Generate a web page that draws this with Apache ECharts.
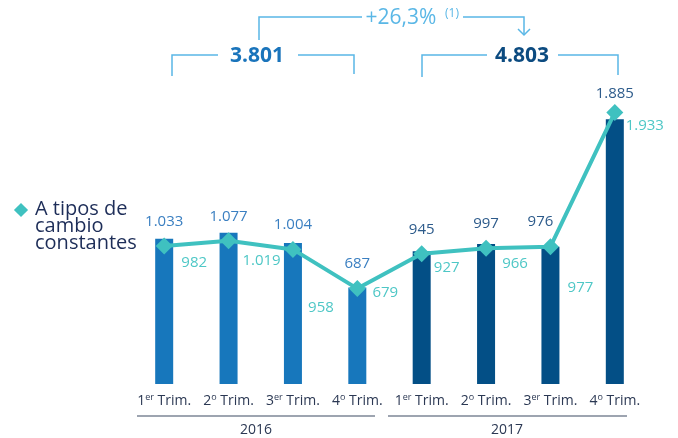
<!DOCTYPE html>
<html>
<head>
<meta charset="utf-8">
<script src="https://cdn.jsdelivr.net/npm/echarts@6/dist/echarts.min.js"></script>
<style>
  html, body { margin: 0; padding: 0; background: #fff; }
  #chart { width: 678px; height: 438px; }
</style>
</head>
<body>
<div id="chart"></div>
<script>
// quarter labels: first char is the number, the rest is the superscript
const quarters = ['1er', '2o', '3er', '4o', '1er', '2o', '3er', '4o']
const years = ['2016', '2017']
const yearTotals = ['3.801', '4.803']
const growth = '+26,3%'
const barValues = [1033, 1077, 1004, 687, 945, 997, 976, 1885]
const constantValues = [982, 1019, 958, 679, 927, 966, 977, 1933]

// label placement for the teal values (dx, dy from the diamond)
const lineLabelOffsets = [[30, 17], [33, 20], [28, 58], [28, 4], [25, 14], [29, 15], [30, 41], [30, 13]]
const barColors = ['#1777bc', '#1777bc', '#1777bc', '#1777bc', '#034f86', '#034f86', '#034f86', '#034f86']
const barLabelColors = ['#3a7fc1', '#3a7fc1', '#3a7fc1', '#3a7fc1', '#2d5b8b', '#2d5b8b', '#2d5b8b', '#2d5b8b']

const fmt = v => {
    const s = String(v)
    return s.length > 3 ? s.slice(0, s.length - 3) + '.' + s.slice(-3) : s
}

const FONT = '"Open Sans", sans-serif'
const accent = '#5ab7e6'
const teal = '#3fc1c0'

const chart = echarts.init(document.getElementById('chart'))

const buildBars = offsets => barValues.map((v, i) => ({
    value: v,
    itemStyle: { color: barColors[i] },
    label: { color: barLabelColors[i], offset: [i === 6 ? -10 : 0, offsets ? offsets[i] : 0] }
}))

const option = {
    animation: false,
    grid: { left: 132, right: 31, top: 103, bottom: 54 },
    xAxis: {
        type: 'category',
        data: quarters,
        axisLine: { show: false },
        axisTick: { show: false },
        axisLabel: {
            margin: 9,
            interval: 0,
            formatter: q => `{n|${q[0]}}{s|${q.slice(1)}}{n| Trim.}`,
            rich: {
                n: { fontFamily: FONT, fontSize: 14, color: '#2b3853' },
                s: { fontFamily: FONT, fontSize: 9, color: '#2b3853', padding: [0, 0, 7, 0] }
            }
        }
    },
    yAxis: { type: 'value', min: 0, max: 2000, show: false, splitLine: { show: false } },
    series: [
        {
            type: 'bar',
            barWidth: 18,
            data: buildBars(null),
            label: {
                show: true,
                position: 'top',
                distance: 8,
                fontFamily: FONT,
                fontSize: 15,
                formatter: p => fmt(p.value)
            }
        },
        {
            type: 'line',
            data: constantValues.map((v, i) => ({
                value: v,
                label: { offset: lineLabelOffsets[i] }
            })),
            z: 5,
            symbol: 'diamond',
            symbolSize: [17, 17],
            lineStyle: { color: teal, width: 4 },
            itemStyle: { color: teal },
            label: {
                show: true,
                position: 'inside',
                fontFamily: FONT,
                fontSize: 15,
                color: '#4ec7c6',
                formatter: p => fmt(p.value)
            }
        }
    ],
    graphic: [
        // legend
        { type: 'rect', shape: { x: -5, y: -5, width: 10, height: 10 }, x: 21, y: 210, rotation: Math.PI / 4, style: { fill: teal } },
        { type: 'text', x: 35, y: 201, style: { text: 'A tipos de\ncambio\nconstantes', font: '20px ' + FONT, fill: '#1d2d58', lineHeight: 17 } },
        // year brackets
        { type: 'polyline', shape: { points: [[172, 76], [172, 55], [218, 55]] }, style: { stroke: accent, lineWidth: 1.5, fill: null } },
        { type: 'polyline', shape: { points: [[298, 55], [354, 55], [354, 74]] }, style: { stroke: accent, lineWidth: 1.5, fill: null } },
        { type: 'text', x: 257, y: 56, style: { text: yearTotals[0], font: 'bold 21px ' + FONT, fill: '#1a74bb', align: 'center', verticalAlign: 'middle' } },
        { type: 'polyline', shape: { points: [[422, 77], [422, 55], [487, 55]] }, style: { stroke: accent, lineWidth: 1.5, fill: null } },
        { type: 'polyline', shape: { points: [[558, 55], [618, 55], [618, 75]] }, style: { stroke: accent, lineWidth: 1.5, fill: null } },
        { type: 'text', x: 522, y: 56, style: { text: yearTotals[1], font: 'bold 21px ' + FONT, fill: '#0c4b80', align: 'center', verticalAlign: 'middle' } },
        // growth arrow
        { type: 'polyline', shape: { points: [[259, 40], [259, 17], [362, 17]] }, style: { stroke: accent, lineWidth: 1.5, fill: null } },
        { type: 'text', x: 401, y: 18, style: { text: growth, font: '21px ' + FONT, fill: accent, align: 'center', verticalAlign: 'middle' } },
        { type: 'text', x: 452, y: 14, style: { text: '(1)', font: '12px ' + FONT, fill: accent, align: 'center', verticalAlign: 'middle' } },
        { type: 'polyline', shape: { points: [[463, 17], [524, 17], [524, 35]] }, style: { stroke: accent, lineWidth: 1.5, fill: null } },
        { type: 'polyline', shape: { points: [[518, 29], [524, 35], [530, 29]] }, style: { stroke: accent, lineWidth: 1.5, fill: null } },
        // year separators
        { type: 'line', shape: { x1: 137, y1: 416, x2: 375, y2: 416 }, style: { stroke: '#7c8696', lineWidth: 1.5 } },
        { type: 'line', shape: { x1: 388, y1: 416, x2: 627, y2: 416 }, style: { stroke: '#7c8696', lineWidth: 1.5 } },
        { type: 'text', x: 256, y: 430, style: { text: years[0], font: '14px ' + FONT, fill: '#2b3853', align: 'center', verticalAlign: 'middle' } },
        { type: 'text', x: 507, y: 430, style: { text: years[1], font: '14px ' + FONT, fill: '#2b3853', align: 'center', verticalAlign: 'middle' } }
    ]
}

chart.setOption(option)

// lift a bar label above the diamond when the diamond sits higher than the bar top
const offsets = barValues.map((v, i) => {
    const barY = chart.convertToPixel({ yAxisIndex: 0 }, v)
    const diamondTop = chart.convertToPixel({ yAxisIndex: 0 }, constantValues[i]) - (i === 7 ? 3 : 9)
    return Math.min(0, diamondTop - barY)
})
chart.setOption({ series: [{ data: buildBars(offsets) }] })
</script>
</body>
</html>
